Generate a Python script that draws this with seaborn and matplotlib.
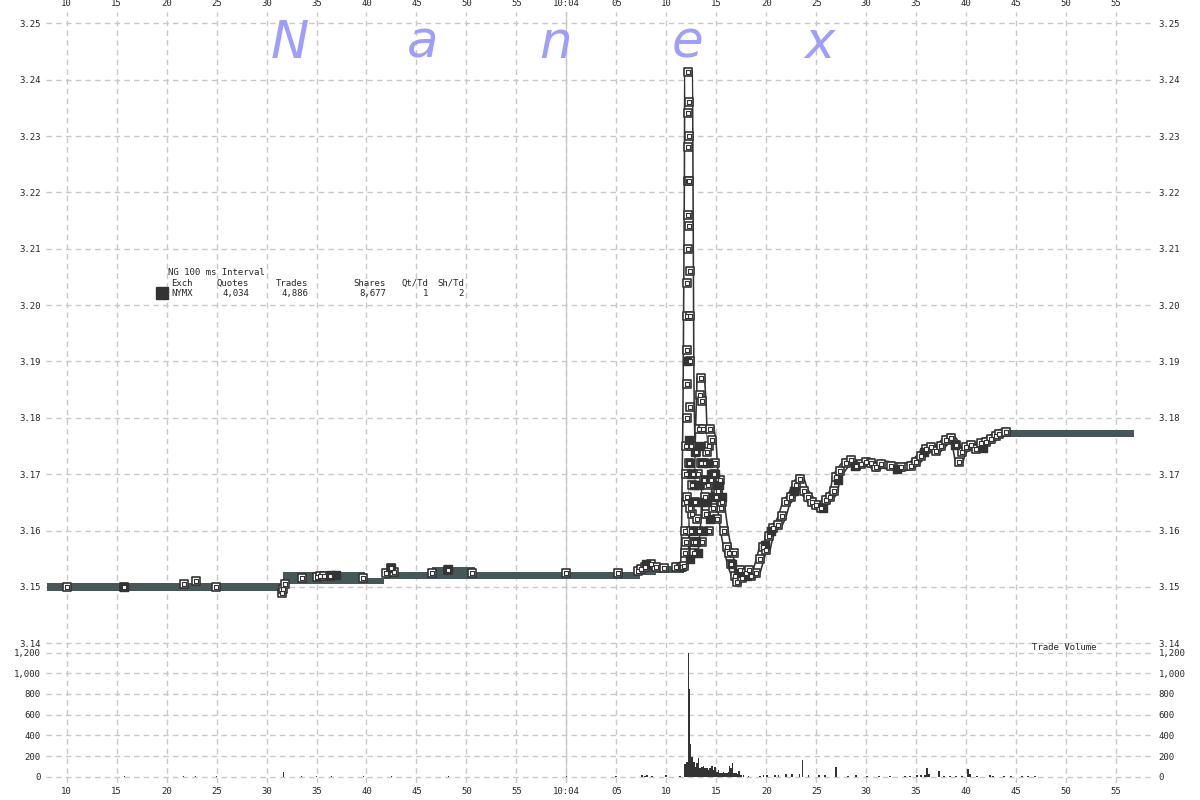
import numpy as np
import pandas as pd
import matplotlib
matplotlib.use("Agg")
import matplotlib.pyplot as plt
import seaborn as sns

# seconds after 10:03:00
x_ticks = [10, 15, 20, 25, 30, 35, 40, 45, 50, 55, 60, 65, 70, 75, 80, 85, 90, 95, 100, 105, 110, 115]
x_tick_labels = ["10", "15", "20", "25", "30", "35", "40", "45", "50", "55", "10:04",
                 "05", "10", "15", "20", "25", "30", "35", "40", "45", "50", "55"]
price_ticks = [3.14, 3.15, 3.16, 3.17, 3.18, 3.19, 3.20, 3.21, 3.22, 3.23, 3.24, 3.25]
vol_ticks = [0, 200, 400, 600, 800, 1000, 1200]
vol_tick_labels = ["0", "200", "400", "600", "800", "1,000", "1,200"]

# quote band (step segments): start time, low, high
band_t = [8.0, 31.6, 39.9, 41.8, 46.6, 50.9, 67.4, 69.0, 71.6]
band_lo = [3.1493, 3.1505, 3.1505, 3.1514, 3.1514, 3.1514, 3.1521, 3.1525, 3.1525]
band_hi = [3.1507, 3.1527, 3.1516, 3.1527, 3.1536, 3.1527, 3.1534, 3.1538, 3.1538]
end_band_t = [102.8, 116.8]
end_band_lo = [3.1766, 3.1766]
end_band_hi = [3.1779, 3.1779]

# calm trades before the jump
base_t = [10.0, 15.7, 21.7, 22.9, 24.9, 31.5, 31.6, 31.8, 33.5, 35.0, 35.3, 35.7, 36.3,
          39.7, 42.0, 42.5, 42.8, 46.6, 48.2, 50.6, 60.0, 65.2, 67.2, 67.5, 67.9, 68.5,
          69.0, 69.8, 71.0, 71.5]
base_p = [3.1500, 3.1500, 3.1505, 3.1510, 3.1500, 3.1490, 3.1497, 3.1505, 3.1515, 3.1518,
          3.1520, 3.1520, 3.1520, 3.1515, 3.1525, 3.1533, 3.1527, 3.1525, 3.1530, 3.1525,
          3.1525, 3.1525, 3.1528, 3.1532, 3.1535, 3.1540, 3.1535, 3.1533, 3.1535, 3.1535]

# active trades: spike and recovery
act_t = [71.6, 71.8, 71.85, 71.9, 71.93, 71.96, 72.0, 72.03, 72.06, 72.08, 72.1, 72.12,
         72.14, 72.16, 72.18, 72.19, 72.2, 72.22, 72.26, 72.28, 72.3, 72.32, 72.34, 72.36,
         72.38, 72.42, 72.5, 72.55, 72.6, 72.7, 72.8, 72.9, 73.1, 73.2, 73.3, 73.4, 73.45,
         73.6, 73.7, 73.8, 73.9, 74.0, 74.2, 74.3, 74.4, 74.6, 74.8, 75.0, 75.2, 75.5, 75.8,
         76.1, 76.5, 76.9, 77.1, 77.4, 78.0, 78.5, 79.0, 79.4, 79.7, 80.0, 80.3, 80.7,
         81.2, 81.6, 82.0, 82.5, 83.0, 83.4, 83.8, 84.2, 84.6, 85.0, 85.5, 86.0, 86.4,
         86.8, 87.0, 87.4, 88.0, 88.5, 89.0, 89.5, 90.0, 90.5, 91.0, 91.5, 92.5, 93.5,
         94.5, 95.0, 95.5, 96.0, 96.5, 97.0, 97.5, 98.0, 98.5, 99.0, 99.3, 99.6, 100.0,
         100.5, 101.0, 101.5, 102.0, 102.5, 103.0, 103.3, 104.0]
act_p = [3.1535, 3.1537, 3.1560, 3.1600, 3.1650, 3.1700, 3.1750, 3.1800, 3.1860, 3.1920,
         3.1980, 3.2040, 3.2100, 3.2160, 3.2220, 3.2280, 3.2340, 3.2413, 3.2360, 3.2300,
         3.2220, 3.2140, 3.2060, 3.1980, 3.1900, 3.1820, 3.1750, 3.1680, 3.1630, 3.1580,
         3.1560, 3.1580, 3.1620, 3.1700, 3.1780, 3.1840, 3.1870, 3.1830, 3.1780, 3.1720,
         3.1660, 3.1630, 3.1680, 3.1750, 3.1780, 3.1760, 3.1700, 3.1660, 3.1670, 3.1640,
         3.1600, 3.1570, 3.1540, 3.1520, 3.1508, 3.1530, 3.1525, 3.1520, 3.1525, 3.1550,
         3.1570, 3.1565, 3.1590, 3.1605, 3.1610, 3.1625, 3.1650, 3.1660, 3.1680, 3.1692,
         3.1670, 3.1660, 3.1650, 3.1645, 3.1640, 3.1655, 3.1660, 3.1670, 3.1695, 3.1705,
         3.1720, 3.1725, 3.1715, 3.1718, 3.1722, 3.1720, 3.1712, 3.1718, 3.1715, 3.1712,
         3.1715, 3.1722, 3.1732, 3.1745, 3.1748, 3.1742, 3.1750, 3.1760, 3.1765, 3.1752,
         3.1722, 3.1740, 3.1748, 3.1752, 3.1745, 3.1755, 3.1758, 3.1762, 3.1768, 3.1772,
         3.1775]

# extra trades filling the dense cluster after the spike
cluster_t = [72.0, 72.1, 72.3, 72.4, 72.5, 72.7, 72.9, 73.0, 73.3, 73.5, 73.6, 73.8,
             74.1, 74.3, 74.5, 74.7, 74.9, 75.1, 75.4, 75.6, 76.3, 76.8, 77.6, 78.3]
cluster_p = [3.1580, 3.1660, 3.1720, 3.1640, 3.1600, 3.1700, 3.1650, 3.1740, 3.1600,
             3.1720, 3.1580, 3.1690, 3.1740, 3.1600, 3.1690, 3.1640, 3.1720, 3.1620,
             3.1690, 3.1650, 3.1560, 3.1560, 3.1515, 3.1530]

# dark filled trade squares
dark_t = [15.7, 36.4, 36.9, 42.5, 48.2, 68.0, 72.1, 72.5, 72.6, 72.9, 73.3, 73.6, 73.9,
          74.1, 74.5, 75.1, 73.2, 76.6, 77.2, 78.1, 79.9, 80.5, 82.8, 85.7, 87.2, 88.9,
          93.1, 95.8, 98.9, 101.7, 72.3, 72.4, 72.7, 72.8, 73.0, 73.5, 73.7, 74.2, 74.4,
          74.7, 74.9, 75.3, 75.6, 72.4, 73.4]
dark_p = [3.1500, 3.1521, 3.1521, 3.1533, 3.1532, 3.1540, 3.1900, 3.1700, 3.1650, 3.1740,
          3.1680, 3.1720, 3.1690, 3.1650, 3.1700, 3.1680, 3.1560, 3.1540, 3.1525, 3.1520,
          3.1575, 3.1600, 3.1670, 3.1640, 3.1690, 3.1715, 3.1710, 3.1740, 3.1752, 3.1747,
          3.1760, 3.1720, 3.1600, 3.1680, 3.1580, 3.1650, 3.1600, 3.1720, 3.1620, 3.1660,
          3.1700, 3.1680, 3.1660, 3.1550, 3.1750]

# trade volume per 100 ms interval
vol_t = [15.8, 21.7, 22.9, 25.0, 31.7, 33.5, 35.0, 36.5, 39.7, 42.5, 48.2, 60.0, 65.0,
         67.6, 67.9, 68.1, 68.6, 70.0, 71.4, 71.9, 72.07, 72.23, 72.33, 72.43, 72.57,
         72.67, 72.8, 72.9, 73.07, 73.23, 73.4, 73.57, 73.73, 73.9, 74.07, 74.23, 74.4,
         74.57, 74.73, 74.9, 75.07, 75.23, 75.4, 75.57, 75.73, 75.9, 76.07, 76.23, 76.33,
         76.47, 76.63, 76.8, 76.97, 77.13, 77.3, 77.47, 77.73, 78.23, 79.4, 79.73, 80.07,
         80.9, 81.23, 81.97, 82.57, 83.33, 83.63, 84.23, 85.3, 85.9, 87.0, 88.2, 89.0,
         90.1, 91.3, 92.4, 93.9, 94.4, 95.1, 95.5, 95.9, 96.1, 96.3, 97.3, 97.8, 98.4,
         99.0, 99.6, 100.2, 100.4, 101.1, 102.4, 102.7, 103.8, 104.5, 105.6, 106.2, 106.9]
vol_v = [5, 3, 3, 5, 45, 5, 8, 6, 5, 8, 6, 4, 4,
         13, 10, 13, 10, 20, 10, 124, 146, 1200, 845, 318, 190,
         130, 146, 98, 130, 180, 81, 98, 104, 81, 88, 65, 81,
         104, 65, 98, 49, 65, 32, 39, 49, 32, 39, 49, 104,
         81, 130, 32, 39, 26, 55, 16, 13, 10, 10, 20, 13,
         20, 20, 26, 23, 26, 160, 13, 20, 13, 95, 10, 12,
         10, 8, 10, 10, 10, 15, 12, 15, 80, 30, 55, 8, 10,
         8, 10, 70, 25, 10, 13, 10, 10, 8, 10, 10, 10]

legend_rows = [("Exch", "Quotes", "Trades", "Shares", "Qt/Td", "Sh/Td"),
               ("NYMX", "4,034", "4,886", "8,677", "1", "2")]
watermark = ["N", "a", "n", "e", "x"]

sns.set_style("white")
plt.rcParams["font.family"] = ["DejaVu Sans Mono", "DejaVu Sans"]
plt.rcParams["font.size"] = 6.5

band_col = "#455757"
dark = "#333333"
grid_kw = dict(color="#c8c8c8", linestyle=(0, (4, 3)), linewidth=1)

W, H = 1200, 800
fig = plt.figure(figsize=(12, 8), dpi=100)
ax = fig.add_axes([46 / W, 1 - 648 / H, (1153 - 46) / W, (648 - 12) / H])
axv = fig.add_axes([46 / W, 1 - 783 / H, (1153 - 46) / W, (783 - 648) / H], sharex=ax)

for a in (ax, axv):
    a.set_axisbelow(True)
    a.grid(True, **grid_kw)
    a.axvline(60, color="#cccccc", linewidth=1, zorder=0.5)
    for s in a.spines.values():
        s.set_visible(False)
    a.tick_params(length=0, pad=4, labelsize=6.5, labelleft=True, labelright=True)

# quote band
bt = band_t + [71.8]
ax.fill_between(bt, band_lo + [band_lo[-1]], band_hi + [band_hi[-1]], step="post",
                color=band_col, linewidth=0, zorder=2)
ax.fill_between(end_band_t, end_band_lo, end_band_hi, color=band_col, linewidth=0, zorder=2)

# active trade path: outlined strip
act = pd.DataFrame({"t": act_t, "p": act_p})
sns.lineplot(data=act, x="t", y="p", ax=ax, color=dark, linewidth=6.5, sort=False,
             estimator=None, zorder=3)
sns.lineplot(data=act, x="t", y="p", ax=ax, color="white", linewidth=4.2, sort=False,
             estimator=None, zorder=3.1)

# trade squares
trades = pd.DataFrame({"t": base_t + act_t + cluster_t, "p": base_p + act_p + cluster_p})
sns.scatterplot(data=trades, x="t", y="p", ax=ax, marker="s", s=32, color="white",
                edgecolor=dark, linewidth=1.2, zorder=4)
sns.scatterplot(x=dark_t, y=dark_p, ax=ax, marker="s", s=34, color=dark,
                edgecolor=dark, linewidth=1, zorder=4.5)
sns.scatterplot(data=trades, x="t", y="p", ax=ax, marker="s", s=5, color="white",
                edgecolor=dark, linewidth=0.8, zorder=5)

ax.set_xlim(7.93, 118.7)
ax.set_ylim(3.13917, 3.2520)
ax.set_yticks(price_ticks)
ax.set_yticklabels([f"{v:.2f}" for v in price_ticks])
ax.set_xticks(x_ticks)
ax.set_xticklabels(x_tick_labels)
ax.tick_params(axis="x", labeltop=True, labelbottom=False, pad=3)
ax.set_xlabel("")
ax.set_ylabel("")

# volume
axv.bar(vol_t, vol_v, width=0.17, color=dark, linewidth=0, zorder=3)
axv.set_ylim(-61, 1245)
axv.set_yticks(vol_ticks)
axv.set_yticklabels(vol_tick_labels)
axv.tick_params(axis="x", labeltop=False, labelbottom=True, pad=3)
axv.set_xlabel("")
axv.set_ylabel("")
fig.text(1032 / W, 1 - 648 / H, "Trade Volume", fontsize=6.5, va="center", ha="left")

# legend block
fig.text(168 / W, 1 - 272 / H, "NG 100 ms Interval", fontsize=6.5, va="center", ha="left")
fig.patches.append(plt.Rectangle((156 / W, 1 - 299 / H), 12 / W, 12 / H,
                                 transform=fig.transFigure, color=dark, figure=fig))
col_x = [171, 249, 308, 386, 428, 464]
col_ha = ["left", "right", "right", "right", "right", "right"]
for r, row in enumerate(legend_rows):
    y = 1 - (283 + 11 * r) / H
    for c, txt in enumerate(row):
        fig.text(col_x[c] / W, y, txt, fontsize=6.5, va="center", ha=col_ha[c])

# watermark
for i, ch in enumerate(watermark):
    fig.text((290 + 132.5 * i) / W, 1 - 44 / H, ch, fontsize=37, color="#9999ff",
             style="italic", family="DejaVu Sans", ha="center", va="center", alpha=0.95)

fig.savefig("out.png", dpi=100, facecolor="white")
